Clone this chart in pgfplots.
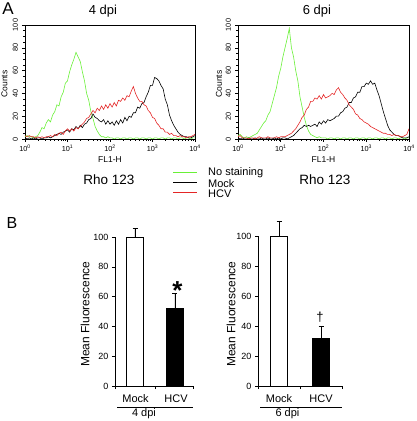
\documentclass[border=0pt]{standalone}
\usepackage{fontspec}
\setmainfont{Liberation Sans}
\usepackage{pgfplots}
\usepackage{pgfplotstable}
\pgfplotsset{compat=1.18}
\definecolor{fgreen}{RGB}{105,240,55}
\definecolor{fred}{RGB}{228,38,38}

\pgfplotstableread{
x g k r
0.00 2 1 3
0.05 3 0 2
0.10 2 1 3
0.15 2 0 2
0.20 1 1 2
0.25 2 0 1
0.30 3 1 2
0.35 6 1 1
0.40 10 0 2
0.45 9 1 1
0.50 14 1 2
0.55 17 2 2
0.60 15 1 3
0.65 21 2 2
0.70 24 3 4
0.75 30 4 3
0.80 29 5 5
0.85 37 4 6
0.90 41 6 4
0.95 49 7 7
1.00 51 8 9
1.05 59 6 7
1.10 65 9 9
1.15 70 8 7
1.20 76 11 10
1.25 72 9 9
1.30 68 12 11
1.35 59 10 13
1.40 51 13 15
1.45 40 14 18
1.50 34 17 19
1.55 24 18 22
1.60 18 22 25
1.65 11 19 23
1.70 7 18 27
1.75 4 16 25
1.80 2 15 29
1.85 2 17 26
1.90 1 13 30
1.95 2 16 27
2.00 1 13 31
2.05 1 15 28
2.10 0 12 32
2.15 1 16 29
2.20 1 13 34
2.25 0 17 33
2.30 1 14 36
2.35 1 19 34
2.40 0 16 38
2.45 1 20 37
2.50 1 19 42
2.55 0 23 46
2.60 1 23 40
2.65 1 28 36
2.70 0 27 33
2.75 1 31 33
2.80 1 32 30
2.85 0 37 29
2.90 1 41 25
2.95 1 47 23
3.00 0 47 19
3.05 1 54 18
3.10 1 53 14
3.15 0 51 12
3.20 1 47 9
3.25 1 44 9
3.30 0 35 6
3.35 1 30 6
3.40 1 21 4
3.45 0 16 5
3.50 1 12 3
3.55 1 9 3
3.60 0 6 2
3.65 1 4 3
3.70 1 3 2
3.75 0 2 2
3.80 1 2 1
3.85 1 1 2
3.90 0 1 2
3.95 1 2 3
4.00 1 3 4
}\dfour

\pgfplotstableread{
x g k r
0.00 3 1 2
0.05 4 0 3
0.10 2 1 1
0.15 1 0 1
0.20 2 0 1
0.25 1 1 0
0.30 2 0 1
0.35 3 0 1
0.40 4 1 0
0.45 5 0 1
0.50 8 0 2
0.55 11 1 1
0.60 14 0 1
0.65 16 0 1
0.70 21 1 2
0.75 24 0 1
0.80 31 0 1
0.85 38 1 1
0.90 45 0 2
0.95 55 1 1
1.00 62 0 2
1.05 72 1 2
1.10 80 1 2
1.15 88 0 3
1.20 97 1 4
1.25 80 2 5
1.30 72 3 7
1.35 60 5 9
1.40 51 7 12
1.45 37 9 15
1.50 28 10 19
1.55 19 12 21
1.60 12 11 26
1.65 7 12 28
1.70 4 11 33
1.75 3 12 33
1.80 2 13 36
1.85 1 11 35
1.90 2 15 38
1.95 1 13 35
2.00 1 16 39
2.05 1 14 36
2.10 0 17 37
2.15 1 16 38
2.20 1 17 40
2.25 0 18 39
2.30 1 20 43
2.35 1 20 45
2.40 0 23 41
2.45 1 24 39
2.50 1 27 36
2.55 0 28 34
2.60 1 32 30
2.65 1 32 28
2.70 0 36 26
2.75 1 37 22
2.80 1 41 21
2.85 0 41 18
2.90 1 46 17
2.95 1 46 15
3.00 0 49 14
3.05 1 48 13
3.10 1 51 11
3.15 0 48 10
3.20 1 49 9
3.25 1 43 8
3.30 0 38 7
3.35 1 31 6
3.40 1 24 5
3.45 0 18 5
3.50 1 12 4
3.55 1 8 4
3.60 0 6 3
3.65 1 4 4
3.70 1 3 3
3.75 0 3 3
3.80 1 2 2
3.85 1 1 2
3.90 0 1 3
3.95 1 1 4
4.00 1 2 9
}\dsix

\pgfplotsset{
  hist/.style={
    scale only axis, anchor=south west, height=114pt,
    xmin=0, xmax=4, ymin=0, ymax=100,
    xtick={0,1,2,3,4},
    xticklabels={10\textsuperscript{0},10\textsuperscript{1},10\textsuperscript{2},10\textsuperscript{3},10\textsuperscript{4}},
    minor xtick={0.301,0.477,0.602,0.699,0.778,0.845,0.903,0.954,
                 1.301,1.477,1.602,1.699,1.778,1.845,1.903,1.954,
                 2.301,2.477,2.602,2.699,2.778,2.845,2.903,2.954,
                 3.301,3.477,3.602,3.699,3.778,3.845,3.903,3.954},
    ytick={0,20,40,60,80,100}, minor y tick num=3,
    tick align=outside, tick pos=left,
    major tick length=3pt, minor tick length=1.8pt,
    every tick/.style={black, line width=0.5pt},
    axis line style={line width=0.8pt},
    tick label style={font=\fontsize{7.3}{8}\selectfont},
    yticklabel style={rotate=90, anchor=south},
    yticklabel shift=0.5pt,
    xticklabel shift=-0.5pt,
    /pgf/number format/assume math mode=true,
  },
  hl/.style={line width=0.6pt},
  bars/.style={
    scale only axis, anchor=south west,
    ymin=0, ymax=100, axis lines*=left,
    ytick={0,20,40,60,80,100},
    tick align=outside, major tick length=3pt,
    every tick/.style={black, line width=0.6pt},
    axis line style={line width=0.7pt},
    tick label style={font=\fontsize{9}{10}\selectfont},
    xticklabels={},
    /pgf/number format/assume math mode=true,
    clip=false,
  },
  bb/.style={ybar, bar width=17pt, bar shift=0pt, draw=black, line width=0.7pt,
    error bars/y dir=plus, error bars/y explicit,
    error bars/error bar style={line width=0.7pt, black},
    error bars/error mark options={rotate=90, mark size=2.5pt, line width=0.7pt, black}},
}

\begin{document}
\begin{tikzpicture}[x=1pt,y=1pt]
\path[use as bounding box] (0,0) rectangle (416,421);

% ---- A: histograms
\begin{axis}[hist, at={(25pt,282pt)}, width=170pt]
\addplot[fgreen, hl] table[x=x, y=g]{\dfour};
\addplot[black, hl] table[x=x, y=k]{\dfour};
\addplot[fred, hl] table[x=x, y=r]{\dfour};
\end{axis}
\begin{axis}[hist, at={(238pt,282pt)}, width=171pt]
\addplot[fgreen, hl] table[x=x, y=g]{\dsix};
\addplot[black, hl] table[x=x, y=k]{\dsix};
\addplot[fred, hl] table[x=x, y=r]{\dsix};
\end{axis}

\node[font=\fontsize{17}{17}\selectfont] at (8,412) {A};
\node[font=\fontsize{13}{13}\selectfont] at (103,410) {4 dpi};
\node[font=\fontsize{13}{13}\selectfont] at (317,410) {6 dpi};
\node[font=\fontsize{8.5}{8.5}\selectfont, rotate=90] at (4.5,337) {Counts};
\node[font=\fontsize{8.5}{8.5}\selectfont, rotate=90] at (219,337) {Counts};
\node[font=\fontsize{8.5}{8.5}\selectfont] at (110,261.5) {FL1-H};
\node[font=\fontsize{8.5}{8.5}\selectfont] at (323.5,261.5) {FL1-H};
\node[font=\fontsize{13.5}{13.5}\selectfont] at (109,241) {Rho 123};
\node[font=\fontsize{13.5}{13.5}\selectfont] at (325,241) {Rho 123};

% legend
\draw[fgreen, line width=1pt] (173,248) -- (197,248);
\draw[black, line width=1pt] (173,238) -- (197,238);
\draw[fred, line width=1pt] (173,228) -- (197,228);
\node[font=\fontsize{11}{11}\selectfont, anchor=west, inner sep=0pt] at (208,248) {No staining};
\node[font=\fontsize{11}{11}\selectfont, anchor=west, inner sep=0pt] at (208,237.5) {Mock};
\node[font=\fontsize{11}{11}\selectfont, anchor=west, inner sep=0pt] at (208,227.5) {HCV};

% ---- B: bar charts
\node[font=\fontsize{16}{16}\selectfont] at (12,198) {B};
\begin{axis}[bars, at={(115pt,35pt)}, width=78pt, height=149pt,
  xmin=-0.5, xmax=1.45, xtick={-0.5,0.5,1.45}]
\addplot[bb, fill=white] coordinates {(0,100) +- (0,6)};
\addplot[bb, fill=black] coordinates {(1,52) +- (0,10)};
\end{axis}
\begin{axis}[bars, at={(258pt,35pt)}, width=84pt, height=150pt,
  xmin=-0.5, xmax=1.5, xtick={-0.5,0.5,1.5}]
\addplot[bb, fill=white] coordinates {(0,100) +- (0,10)};
\addplot[bb, fill=black] coordinates {(1,32) +- (0,7.5)};
\end{axis}

\node[font=\fontsize{12}{12}\selectfont, rotate=90] at (85,107) {Mean Fluorescence};
\node[font=\fontsize{12}{12}\selectfont, rotate=90] at (231,107) {Mean Fluorescence};
\node[font=\fontsize{11}{11}\selectfont, anchor=base] at (135.5,18) {Mock};
\node[font=\fontsize{11}{11}\selectfont, anchor=base] at (176,18) {HCV};
\node[font=\fontsize{11}{11}\selectfont, anchor=base] at (279,18) {Mock};
\node[font=\fontsize{11}{11}\selectfont, anchor=base] at (321,18) {HCV};
\draw[line width=0.7pt] (117,13.7) -- (193,13.7);
\draw[line width=0.7pt] (260,13.7) -- (342,13.7);
\node[font=\fontsize{11}{11}\selectfont, anchor=base] at (144,4.5) {4 dpi};
\node[font=\fontsize{11}{11}\selectfont, anchor=base] at (287.5,4.5) {6 dpi};
\node[font=\bfseries\fontsize{26}{26}\selectfont, anchor=base, inner sep=0pt] at (177.5,121) {*};
\node[font=\fontsize{13}{13}\selectfont] at (320,103.5) {†};
\end{tikzpicture}
\end{document}
